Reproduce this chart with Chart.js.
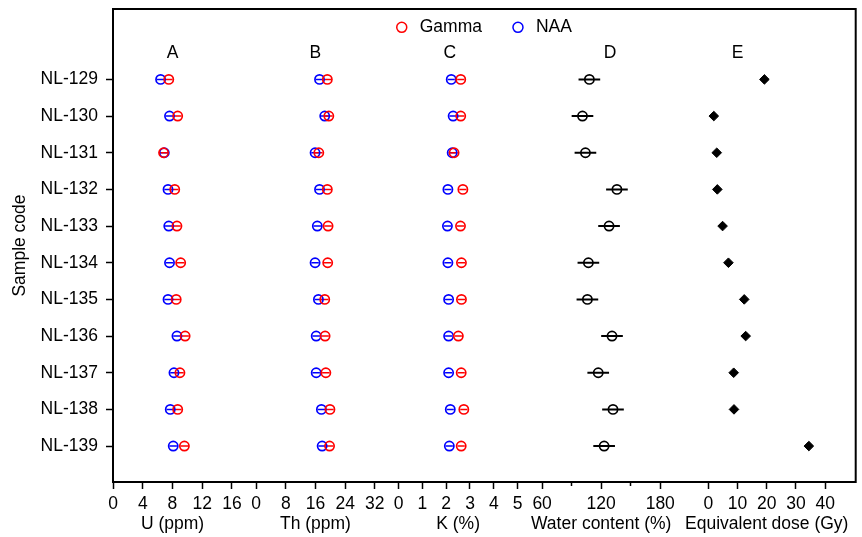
<!DOCTYPE html>
<html>
<head>
<meta charset="utf-8">
<script src="https://cdn.jsdelivr.net/npm/chart.js@4.4.1/dist/chart.umd.min.js"></script>
<style>
  html, body { margin: 0; padding: 0; background: #fff; }
</style>
</head>
<body>
<canvas id="doseChart" width="862" height="537"></canvas>
<script>
// samples, top to bottom
const samples = ["NL-129", "NL-130", "NL-131", "NL-132", "NL-133", "NL-134",
                 "NL-135", "NL-136", "NL-137", "NL-138", "NL-139"];

// A - U (ppm)
const uGamma = [7.5, 8.7, 6.8, 8.3, 8.6, 9.1, 8.5, 9.7, 9.0, 8.7, 9.6];
const uNaa   = [6.4, 7.6, 6.9, 7.4, 7.5, 7.6, 7.4, 8.6, 8.2, 7.7, 8.1];
const uErr   = [0.5, 0.5, 0.5, 0.5, 0.5, 0.5, 0.5, 0.5, 0.5, 0.5, 0.5];

// B - Th (ppm)
const thGamma = [19.2, 19.6, 16.9, 19.2, 19.4, 19.3, 18.5, 18.6, 18.8, 19.9, 19.8];
const thNaa   = [17.1, 18.5, 15.9, 17.1, 16.5, 15.9, 16.8, 16.2, 16.2, 17.6, 17.8];
const thErr   = [1.0, 1.0, 1.0, 1.0, 1.0, 1.0, 1.0, 1.0, 1.0, 1.0, 1.0];

// C - K (%)
const kGamma = [2.61, 2.61, 2.33, 2.70, 2.60, 2.64, 2.64, 2.51, 2.63, 2.74, 2.63];
const kNaa   = [2.21, 2.29, 2.25, 2.07, 2.05, 2.07, 2.10, 2.10, 2.10, 2.17, 2.13];
const kErr   = [0.15, 0.15, 0.15, 0.15, 0.15, 0.15, 0.15, 0.15, 0.15, 0.15, 0.15];

// D - water content (%)
const water    = [108, 101, 104, 136, 128, 107, 106, 131, 117, 132, 123];
const waterErr = [11, 11, 11, 11, 11, 11, 11, 11, 11, 11, 11];

// E - equivalent dose (Gy)
const dose = [19.2, 1.9, 2.9, 3.1, 4.9, 6.9, 12.3, 12.8, 8.7, 8.8, 34.4];

// tick values of each panel axis
const uTicks = [0, 4, 8, 12, 16];
const thTicks = [0, 8, 16, 24, 32];
const kTicks = [0, 1, 2, 3, 4, 5];
const waterTicks = [60, 90, 120, 150, 180];
const waterLabelled = [60, 120, 180];
const doseTicks = [0, 10, 20, 30, 40];

const FONT = "'Liberation Sans', Arial, sans-serif";
const RED = "#ff0000", BLUE = "#0000ff", BLACK = "#000000";
const font17 = { family: FONT, size: 17.5 };

Chart.defaults.font.family = FONT;
Chart.defaults.color = BLACK;

function points(values) {
  return values.map((v, i) => ({ x: v, y: i }));
}

// one short line per point, broken with NaN gaps
function errorBars(values, errs) {
  const out = [];
  values.forEach((v, i) => {
    out.push({ x: v - errs[i], y: i }, { x: v + errs[i], y: i }, { x: NaN, y: NaN });
  });
  return out;
}

function markers(label, values, color, axis) {
  return {
    label: label, data: points(values), xAxisID: axis,
    pointStyle: "circle", pointRadius: 4.6, borderWidth: 1.7,
    borderColor: color, backgroundColor: "rgba(0,0,0,0)"
  };
}

function bars(values, errs, color, axis, width) {
  return {
    label: "err", data: errorBars(values, errs), xAxisID: axis,
    showLine: true, pointRadius: 0, pointHitRadius: 0,
    borderColor: color, borderWidth: width || 1.5, spanGaps: false
  };
}

function fixHeight(scale) {
  scale.height = 55;
  scale.paddingLeft = 0;
  scale.paddingRight = 0;
}

function panelAxis(tickVals, min, max, title, weight, labelled) {
  const isMinor = (v) => labelled && !labelled.includes(v);
  return {
    type: "linear", position: "bottom", stack: "panels", stackWeight: weight,
    min: min, max: max,
    afterBuildTicks: (scale) => { scale.ticks = tickVals.map(v => ({ value: v })); },
    border: { display: true, color: BLACK, width: 2 },
    grid: {
      drawOnChartArea: false, drawTicks: true, tickLength: 7, tickWidth: 1.5, tickColor: BLACK,
      tickBorderDash: (ctx) => (ctx.tick && isMinor(ctx.tick.value)) ? [3, 20] : []
    },
    ticks: {
      autoSkip: false, maxRotation: 0, padding: 5, color: BLACK, font: font17,
      callback: (v) => isMinor(v) ? "" : v
    },
    title: { display: true, text: title, color: BLACK, font: font17, padding: { top: 0, bottom: 2 } },
    afterFit: fixHeight
  };
}

function gapAxis(weight) {
  return {
    type: "linear", position: "bottom", stack: "panels", stackWeight: weight,
    min: 0, max: 1,
    border: { display: true, color: BLACK, width: 2 },
    grid: { display: false },
    ticks: { display: false },
    afterFit: fixHeight
  };
}

const framePlugin = {
  id: "frame",
  afterDraw(chart) {
    const { ctx, chartArea: a } = chart;
    ctx.save();
    ctx.strokeStyle = BLACK;
    ctx.lineWidth = 2;
    ctx.strokeRect(a.left, a.top, a.right - a.left, a.bottom - a.top);
    ctx.restore();
  }
};

const panelLabelsPlugin = {
  id: "panelLabels",
  afterDraw(chart, args, opts) {
    const { ctx, chartArea: a, scales } = chart;
    const yScale = scales.y;
    ctx.save();
    ctx.font = "17.5px " + FONT;
    ctx.fillStyle = BLACK;
    ctx.textBaseline = "middle";
    ctx.textAlign = "center";
    const ly = yScale.getPixelForValue(opts.letterRow);
    opts.letters.forEach((t, i) => {
      ctx.fillText(t, scales[opts.letterAxes[i]].getPixelForValue(opts.letterAt[i]), ly);
    });

    // legend inside the frame
    const items = opts.legend.map(name => {
      const ds = chart.data.datasets.find(d => d.label === name);
      return { text: name, color: ds.borderColor, w: ctx.measureText(name).width };
    });
    const r = 5, gapIn = 13, gapOut = 31;
    let total = 0;
    items.forEach((it, i) => { total += 2 * r + gapIn + it.w + (i ? gapOut : 0); });
    let x = (a.left + a.right) / 2 - total / 2;
    const y = yScale.getPixelForValue(opts.legendRow);
    ctx.textAlign = "left";
    items.forEach((it, i) => {
      if (i) x += gapOut;
      ctx.beginPath();
      ctx.strokeStyle = it.color;
      ctx.lineWidth = 1.5;
      ctx.arc(x + r, y, r, 0, Math.PI * 2);
      ctx.stroke();
      x += 2 * r + gapIn;
      ctx.fillStyle = BLACK;
      ctx.fillText(it.text, x, y);
      x += it.w;
    });
    ctx.restore();
  }
};

new Chart(document.getElementById("doseChart"), {
  type: "scatter",
  data: {
    datasets: [
      markers("Gamma", uGamma, RED, "xU"),
      markers("NAA", uNaa, BLUE, "xU"),
      markers("Gamma", thGamma, RED, "xTh"),
      markers("NAA", thNaa, BLUE, "xTh"),
      markers("Gamma", kGamma, RED, "xK"),
      markers("NAA", kNaa, BLUE, "xK"),
      markers("Water content", water, BLACK, "xW"),
      {
        label: "Equivalent dose", data: points(dose), xAxisID: "xE",
        pointStyle: "rectRot", pointRadius: 4.8, borderWidth: 1,
        borderColor: BLACK, backgroundColor: BLACK
      },
      bars(uGamma, uErr, RED, "xU"),
      bars(uNaa, uErr, BLUE, "xU"),
      bars(thGamma, thErr, RED, "xTh"),
      bars(thNaa, thErr, BLUE, "xTh"),
      bars(kGamma, kErr, RED, "xK"),
      bars(kNaa, kErr, BLUE, "xK"),
      bars(water, waterErr, BLACK, "xW", 2)
    ]
  },
  options: {
    responsive: false,
    animation: false,
    layout: { padding: { top: 9, right: 3, bottom: 0, left: 0 } },
    plugins: {
      legend: { display: false },
      tooltip: { enabled: false },
      panelLabels: {
        legend: ["Gamma", "NAA"],
        legendRow: -1.42,
        letters: ["A", "B", "C", "D", "E"],
        letterAxes: ["xU", "xTh", "xK", "xW", "xE"],
        letterAt: [8, 16, 2.15, 129, 10],
        letterRow: -0.72
      }
    },
    scales: {
      y: {
        type: "linear", reverse: true, min: -1.92, max: 10.98,
        afterBuildTicks: (scale) => { scale.ticks = samples.map((s, i) => ({ value: i })); },
        afterFit: (scale) => { scale.width = 113; scale.paddingTop = 0; scale.paddingBottom = 0; },
        border: { display: true, color: BLACK, width: 2 },
        grid: { drawOnChartArea: false, tickLength: 7, tickWidth: 1.5, tickColor: BLACK },
        ticks: { autoSkip: false, padding: 8, color: BLACK, font: font17, callback: (v) => samples[v] },
        title: { display: true, text: "Sample code", color: BLACK, font: font17, padding: { top: 10, bottom: 0 } }
      },
      xU: panelAxis(uTicks, 0, 16, "U (ppm)", 119.5),
      g1: gapAxis(24.2),
      xTh: panelAxis(thTicks, 0, 32, "Th (ppm)", 119.3),
      g2: gapAxis(24),
      xK: panelAxis(kTicks, 0, 5, "K (%)", 119.3),
      xW: panelAxis(waterTicks, 35, 205, "Water content (%)", 168.1, waterLabelled),
      xE: panelAxis(doseTicks, -8, 48, "Equivalent dose (Gy)", 164.5),
      g3: gapAxis(7.1)
    }
  },
  plugins: [framePlugin, panelLabelsPlugin]
});
</script>
</body>
</html>
